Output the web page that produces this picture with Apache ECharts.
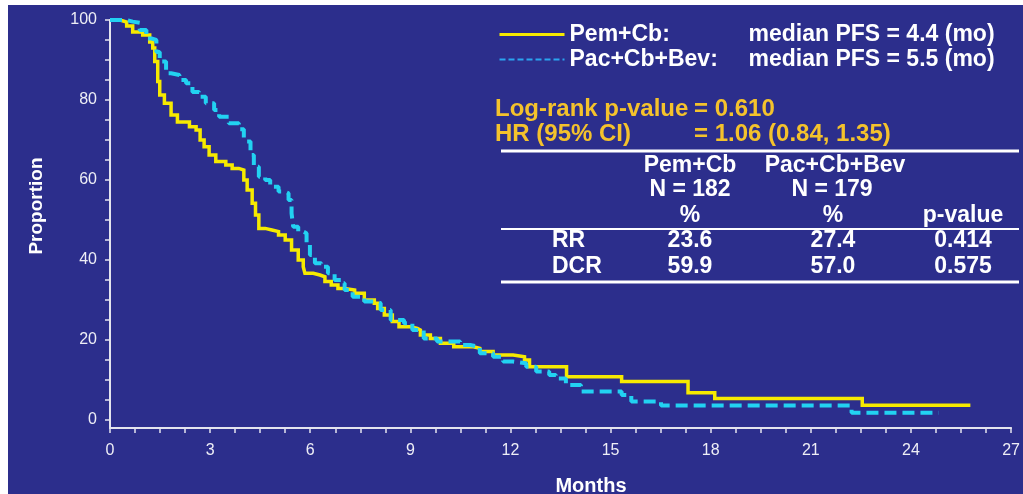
<!DOCTYPE html>
<html>
<head>
<meta charset="utf-8">
<script src="https://cdn.jsdelivr.net/npm/echarts@6/dist/echarts.min.js"></script>
<style>
  html, body { margin: 0; padding: 0; background: #ffffff; }
  #chart { position: absolute; left: 8px; top: 5px; width: 1015px; height: 489px; }
</style>
</head>
<body>
<div id="chart"></div>
<script>
// Kaplan-Meier progression-free survival, two arms (time in months, survival in %)
const pemMonths = [0, 0.30, 0.50, 0.68, 0.98, 1.19, 1.28, 1.34, 1.43, 1.49, 1.63, 1.83, 2.02, 2.38, 2.58, 2.70,
  2.82, 2.97, 3.17, 3.47, 3.66, 3.86, 4.01, 4.11, 4.26, 4.36, 4.46, 4.65, 4.85, 5.05, 5.25, 5.44, 5.64, 5.79,
  5.84, 6.09, 6.29, 6.44, 6.63, 6.83, 7.03, 7.33, 7.62, 7.92, 8.02, 8.22, 8.46, 8.66, 9.01, 9.21, 9.30, 9.60,
  9.90, 10.30, 10.89, 11.08, 11.48, 12.08, 12.42, 12.57, 13.68, 15.33, 17.32, 18.12, 22.54, 25.78];
const pemSurv = [100, 99.5, 98.5, 97, 96.25, 94.5, 93, 89.6, 84.6, 81.25, 79.2, 76.25, 74.5, 73.3, 72.5, 70,
  68.3, 66.25, 64.6, 63.75, 62.9, 62.5, 60, 57.5, 54.2, 51.25, 47.9, 47.5, 47.1, 46.25, 45, 42.5, 40, 38.3,
  36.7, 36.25, 35.8, 34.6, 33.75, 32.9, 32.5, 31.7, 30, 29.2, 27.9, 26.25, 24.6, 23.3, 22.9, 22.5, 21.25, 20.4,
  19.2, 18.3, 17.9, 17.1, 16.25, 15.8, 15, 13.3, 10.8, 9.6, 6.8, 5.4, 3.7, 3.7];

const pacMonths = [0, 0.30, 0.50, 0.68, 0.89, 1.09, 1.24, 1.39, 1.49, 1.68, 1.83, 2.08, 2.28, 2.47, 2.67, 2.87,
  3.12, 3.27, 3.56, 3.86, 4.01, 4.06, 4.21, 4.31, 4.46, 4.65, 4.80, 5.05, 5.25, 5.35, 5.44, 5.49, 5.64, 5.79,
  5.89, 5.99, 6.14, 6.33, 6.53, 6.73, 6.93, 7.03, 7.27, 7.62, 7.97, 8.11, 8.41, 8.81, 9.06, 9.40, 9.80, 10.49,
  10.79, 11.08, 11.48, 11.78, 12.08, 12.47, 12.77, 13.16, 13.36, 13.66, 14.11, 15.33, 15.62, 16.51, 22.22, 24.83];
const pacSurv = [100, 100, 99.6, 99.3, 97.5, 95.4, 95, 92, 89.6, 86.7, 86.25, 85, 84.2, 82, 80.8, 79.2,
  77.5, 75.8, 74.2, 72.7, 70.5, 69.6, 66.25, 63.3, 60.8, 60, 58.3, 57.1, 56.7, 55, 51.7, 48.3, 47.1, 46.7,
  44.2, 41.25, 39.2, 38.3, 36.7, 35, 34.2, 32.5, 30.8, 29.6, 29.2, 27.5, 25, 24.2, 22.5, 20.4, 19.6, 18.75,
  18.3, 16.7, 15.8, 14.6, 14.2, 13.3, 12.1, 11.25, 10.4, 8.75, 7.1, 6.25, 4.6, 3.6, 1.8, 1.8];

// Axis tick labels
const monthTicks = [0, 3, 6, 9, 12, 15, 18, 21, 24, 27];
const proportionTicks = [0, 20, 40, 60, 80, 100];

// Arms, medians and summary statistics
const armNames = ['Pem+Cb', 'Pac+Cb+Bev'];
const medianPFS = ['4.4', '5.5'];
const armN = [182, 179];
const logRankP = '0.610';
const hazardRatio = '1.06 (0.84, 1.35)';
const rrRow = ['RR', '23.6', '27.4', '0.414'];
const dcrRow = ['DCR', '59.9', '57.0', '0.575'];

const FONT = '"Liberation Sans", Arial, Helvetica, sans-serif';
const BG = '#2c2e8c';
const AXIS = '#e4e4ee';
const YELLOW = '#f6ea00';
const CYAN = '#22d2f2';
const GOLD = '#f4c22c';
const WHITE = '#ffffff';

function zip(a, b) { return a.map((v, i) => [v, b[i]]); }
function range(start, end, step) {
  const out = [];
  for (let v = start; v <= end + 1e-9; v += step) out.push(Math.round(v * 100) / 100);
  return out;
}

// page-to-container offset (container sits at 8,5)
const OX = 8, OY = 5;
function txt(x, y, text, opts, extra) {
  return Object.assign({
    type: 'text', x: x - OX, y: y - OY, silent: true,
    style: Object.assign({
      text: text, fill: WHITE, font: 'bold 23px ' + FONT,
      align: 'left', verticalAlign: 'middle'
    }, opts || {})
  }, extra || {});
}
function hline(x1, x2, y, w) {
  return {
    type: 'line', silent: true,
    shape: { x1: x1 - OX, y1: y - OY, x2: x2 - OX, y2: y - OY },
    style: { stroke: WHITE, lineWidth: w }
  };
}

const col = [552, 690, 835, 963];
const graphics = [
  // axis titles
  txt(37, 206, 'Proportion', { font: 'bold 19px ' + FONT, align: 'center' }, { rotation: Math.PI / 2 }),
  txt(591, 486, 'Months', { font: 'bold 20px ' + FONT, align: 'center' }),
  // test statistics
  txt(495, 109, 'Log-rank p-value', { fill: GOLD, font: 'bold 24px ' + FONT }),
  txt(694, 109, '= ' + logRankP, { fill: GOLD, font: 'bold 24px ' + FONT }),
  txt(495, 134, 'HR (95% CI)', { fill: GOLD, font: 'bold 24px ' + FONT }),
  txt(694, 134, '= ' + hazardRatio, { fill: GOLD, font: 'bold 24px ' + FONT }),
  // response table
  hline(501, 1019, 151, 3),
  txt(col[1], 166, armNames[0], { align: 'center' }),
  txt(col[2], 166, armNames[1], { align: 'center' }),
  txt(col[1], 190, 'N = ' + armN[0], { align: 'center' }),
  txt(col[2] - 3, 190, 'N = ' + armN[1], { align: 'center' }),
  txt(col[1], 216, '%', { align: 'center' }),
  txt(col[2] - 2, 216, '%', { align: 'center' }),
  txt(col[3], 216, 'p-value', { align: 'center' }),
  hline(501, 1019, 229, 2),
  txt(col[0], 241, rrRow[0]),
  txt(col[1], 241, rrRow[1], { align: 'center' }),
  txt(col[2] - 2, 241, rrRow[2], { align: 'center' }),
  txt(col[3], 241, rrRow[3], { align: 'center' }),
  txt(col[0], 267, dcrRow[0]),
  txt(col[1], 267, dcrRow[1], { align: 'center' }),
  txt(col[2] - 2, 267, dcrRow[2], { align: 'center' }),
  txt(col[3], 267, dcrRow[3], { align: 'center' }),
  hline(501, 1019, 282, 3)
];

const chart = echarts.init(document.getElementById('chart'), null, { renderer: 'canvas' });
chart.setOption({
  backgroundColor: BG,
  animation: false,
  textStyle: { fontFamily: FONT },
  grid: { left: 102, top: 15, right: 4, bottom: 66, containLabel: false },
  legend: {
    orient: 'vertical',
    left: 490, top: 18, padding: 0,
    itemWidth: 65, itemHeight: 20, itemGap: 2,
    itemStyle: { color: 'rgba(0,0,0,0)', borderWidth: 0, opacity: 0 },
    data: [
      { name: armNames[0], lineStyle: { color: YELLOW, width: 3, type: 'solid' } },
      { name: armNames[1], lineStyle: { color: '#2aa4f0', width: 2, type: [6, 3] } }
    ],
    formatter: function (name) {
      const i = armNames.indexOf(name);
      return '{n|' + name + ':}{m|median PFS = ' + medianPFS[i] + ' (mo)}';
    },
    textStyle: {
      color: WHITE,
      rich: {
        n: { width: 179, fontSize: 23, fontWeight: 'bold', color: WHITE, fontFamily: FONT, lineHeight: 24 },
        m: { fontSize: 23, fontWeight: 'bold', color: WHITE, fontFamily: FONT, lineHeight: 24 }
      }
    }
  },
  xAxis: {
    type: 'value', min: 0, max: 27,
    axisLine: { show: true, onZero: false, lineStyle: { color: AXIS, width: 2 } },
    axisTick: { show: true, length: 5, lineStyle: { color: AXIS, width: 1.5 }, customValues: range(0, 27, 0.75) },
    axisLabel: { customValues: monthTicks, color: '#eeeef6', fontSize: 16, margin: 15, fontFamily: FONT },
    splitLine: { show: false }
  },
  yAxis: {
    type: 'value', min: -2, max: 100,
    axisLine: { show: true, onZero: false, lineStyle: { color: AXIS, width: 2 } },
    axisTick: { show: true, length: 5, lineStyle: { color: AXIS, width: 1.5 }, customValues: range(0, 100, 5) },
    axisLabel: { customValues: proportionTicks, color: '#eeeef6', fontSize: 16, margin: 13, fontFamily: FONT },
    splitLine: { show: false }
  },
  series: [
    {
      name: armNames[0], type: 'line', step: 'end', symbol: 'none',
      data: zip(pemMonths, pemSurv),
      lineStyle: { color: YELLOW, width: 3.5, type: 'solid', join: 'miter', cap: 'butt' },
      itemStyle: { color: YELLOW },
      z: 2
    },
    {
      name: armNames[1], type: 'line', step: 'end', symbol: 'none',
      data: zip(pacMonths, pacSurv),
      lineStyle: { color: CYAN, width: 4, type: [12, 6], cap: 'butt' },
      itemStyle: { color: CYAN },
      z: 3
    }
  ],
  graphic: { elements: graphics }
});
</script>
</body>
</html>
